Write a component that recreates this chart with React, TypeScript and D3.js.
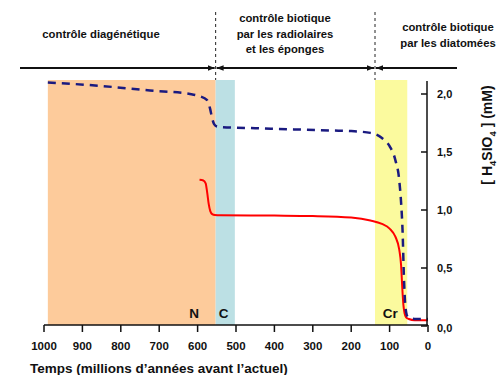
import React from "react";
import * as d3 from "d3";

const xTicks = [1000, 900, 800, 700, 600, 500, 400, 300, 200, 100, 0];
const yTicks = [0, 0.5, 1.0, 1.5, 2.0];

const periods = [
  { label: "N", start: 990, end: 553, color: "#FDCB9B", labelT: 609 },
  { label: "C", start: 553, end: 503, color: "#BCE0E4", labelT: 532 },
  { label: "Cr", start: 138, end: 54, color: "#FBFA9E", labelT: 98 },
];

// dashed blue curve [time (Ma), H4SiO4 (mM)]
const blueT = [990, 854, 724, 620, 594, 576, 568, 562, 557, 550, 540, 450, 350, 250, 200, 150, 120, 100, 85, 75, 70, 66, 63, 60, 57, 53, 45, 30, 0];
const blueV = [2.10, 2.07, 2.03, 2.0, 1.98, 1.95, 1.88, 1.79, 1.74, 1.72, 1.715, 1.705, 1.695, 1.685, 1.68, 1.665, 1.62, 1.55, 1.43, 1.26, 1.06, 0.8, 0.45, 0.22, 0.12, 0.08, 0.065, 0.06, 0.06];

// solid red curve
const redT = [595, 585, 579, 575, 571, 567, 562, 555, 540, 400, 300, 200, 150, 120, 100, 85, 75, 70, 67, 64, 61, 57, 50, 35, 0];
const redV = [1.26, 1.255, 1.23, 1.15, 1.05, 0.99, 0.965, 0.957, 0.955, 0.952, 0.948, 0.935, 0.91, 0.88, 0.84, 0.77, 0.66, 0.52, 0.33, 0.18, 0.11, 0.075, 0.06, 0.05, 0.05];

const regimes = [
  { lines: ["contrôle diagénétique"], cx: 101, y0: 38 },
  { lines: ["contrôle biotique", "par les radiolaires", "et les éponges"], cx: 285, y0: 22 },
  { lines: ["contrôle biotique", "par les diatomées"], cx: 448, y0: 31 },
];
const boundaries = [553, 138];

export default function App() {
  const x = d3.scaleLinear().domain([1000, 0]).range([44, 428]);
  const y = d3.scaleLinear().domain([0, 2]).range([326, 94]);
  const font = "'Liberation Sans', Arial, sans-serif";
  const line = d3
    .line<[number, number]>()
    .x((d) => x(d[0]))
    .y((d) => y(d[1]))
    .curve(d3.curveMonotoneX);
  const blue = blueT.map((t, i) => [t, blueV[i]] as [number, number]);
  const red = redT.map((t, i) => [t, redV[i]] as [number, number]);
  const fmt = (v: number) => v.toFixed(1).replace(".", ",");
  const bx = boundaries.map((b) => x(b));
  const arrowY = 68;
  return (
    <svg width={500} height={375} style={{ position: "absolute", left: 0, top: 0 }} fontFamily={font}>
      <defs>
        <marker id="ah" viewBox="0 0 10 10" refX="10" refY="5" markerWidth="7" markerHeight="7" markerUnits="userSpaceOnUse" orient="auto-start-reverse">
          <path d="M0,1 L10,5 L0,9 z" fill="#111" />
        </marker>
      </defs>
      <rect width={500} height={375} fill="#fff" />
      {periods.map((p) => (
        <g key={p.label}>
          <rect x={x(p.start)} y={80} width={x(p.end) - x(p.start)} height={325 - 80} fill={p.color} />
          <text x={x(p.labelT)} y={318} textAnchor="middle" fontWeight="bold" fontSize={13.5} fill="#111">
            {p.label}
          </text>
        </g>
      ))}
      {/* regime boundaries */}
      {bx.map((b, i) => (
        <line key={i} x1={b} x2={b} y1={12} y2={80} stroke="#222" strokeWidth={1} strokeDasharray="3,3" />
      ))}
      <line x1={20} x2={bx[0] - 1} y1={arrowY} y2={arrowY} stroke="#111" strokeWidth={2} markerEnd="url(#ah)" />
      <line x1={bx[0] + 1} x2={bx[1] - 1} y1={arrowY} y2={arrowY} stroke="#111" strokeWidth={2} markerStart="url(#ah)" markerEnd="url(#ah)" />
      <line x1={bx[1] + 1} x2={457} y1={arrowY} y2={arrowY} stroke="#111" strokeWidth={2} markerStart="url(#ah)" />
      {regimes.map((r, i) => (
        <text key={i} textAnchor="middle" fontWeight="bold" fontSize={11.3} fill="#111">
          {r.lines.map((l, j) => (
            <tspan key={j} x={r.cx} y={r.y0 + j * 15.5}>
              {l}
            </tspan>
          ))}
        </text>
      ))}
      {/* curves */}
      <path d={line(red) || ""} fill="none" stroke="#FF0000" strokeWidth={2} />
      <path d={line(blue) || ""} fill="none" stroke="#1A1A80" strokeWidth={2.5} strokeDasharray="8,6" />
      {/* x axis */}
      <line x1={x(1000)} x2={x(0)} y1={325} y2={325} stroke="#111" strokeWidth={1.5} />
      {xTicks.map((t) => (
        <g key={t}>
          <line x1={x(t)} x2={x(t)} y1={325} y2={332} stroke="#111" strokeWidth={1.5} />
          <text x={x(t)} y={350} textAnchor="middle" fontWeight="bold" fontSize={11.5} fill="#111">
            {t}
          </text>
        </g>
      ))}
      <text x={30} y={373} fontWeight="bold" fontSize={13.5} fill="#111">
        Temps (millions d’années avant l’actuel)
      </text>
      {/* y axis */}
      <line x1={427} x2={427} y1={81} y2={326} stroke="#111" strokeWidth={1.5} />
      {yTicks.map((v) => (
        <g key={v}>
          <line x1={421} x2={427} y1={y(v)} y2={y(v)} stroke="#111" strokeWidth={1.5} />
          <text x={437} y={y(v) + (v === 0 ? 6 : 4)} fontWeight="bold" fontSize={11} fill="#111">
            {fmt(v)}
          </text>
        </g>
      ))}
      <text transform="translate(492,135) rotate(-90)" textAnchor="middle" fontWeight="bold" fontSize={14} fill="#111">
        [ H<tspan fontSize={9.5} dy={3.5}>4</tspan>
        <tspan dy={-3.5}>SIO</tspan>
        <tspan fontSize={9.5} dy={3.5}>4</tspan>
        <tspan dy={-3.5}> ] (mM)</tspan>
      </text>
    </svg>
  );
}
